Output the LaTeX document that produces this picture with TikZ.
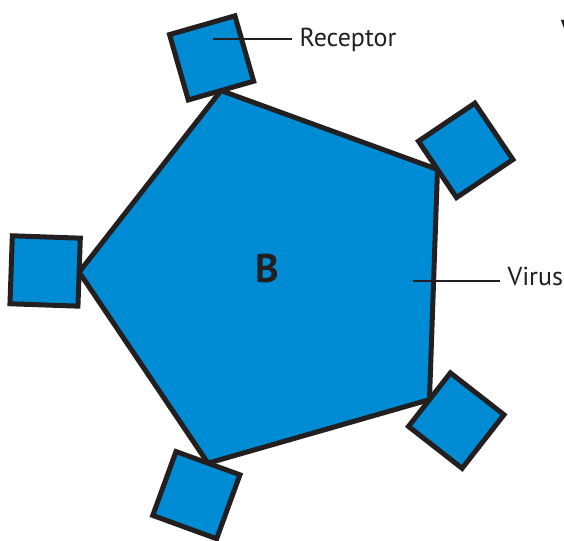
\documentclass[tikz,border=0pt]{standalone}
\usepackage{fontspec}
\setmainfont{PT Sans}
\definecolor{virusblue}{RGB}{0,140,212}
\definecolor{ink}{RGB}{35,31,32}

\begin{document}
\begin{tikzpicture}[x=1pt,y=1pt,line width=5pt,
    virus/.style={draw=ink,fill=virusblue},
    receptor/.style={draw=ink,fill=virusblue},
    leader/.style={draw=ink,line width=2pt},
    tag/.style={font=\fontsize{26}{30}\selectfont,text=ink,inner sep=5pt,anchor=base west}]
  \useasboundingbox (0,0) rectangle (564,540);
  \def\R{196}   % circumradius of the virus
  \def\S{34}    % half the side of a receptor
  \begin{scope}[shift={(275,261)}]
    \draw[virus] (106:\R) -- (34:\R) -- (-38:\R) -- (-110:\R) -- (178:\R) -- cycle;
    \foreach \a in {106,34,-38,-110,178} {
      \draw[receptor,shift={(\a:{\R+\S})},rotate=\a] (-\S,-\S) rectangle (\S,\S);
    }
    \node[font=\bfseries\fontsize{40}{48}\selectfont,text=ink] (b) at (-8,10) {B};
  \end{scope}
  % labels
  \coordinate (rectip) at (213,501);
  \node[tag] (rec) at (292,493) {Receptor};
  \draw[leader] (rectip) -- (rectip -| rec.west);
  \coordinate (virtip) at (413,259);
  \node[tag] (vir) at (500,254) {Virus};
  \draw[leader] (virtip) -- (virtip -| vir.west);
  \node[tag,inner sep=0pt,font=\bfseries\fontsize{26}{30}\selectfont] (cut) at (558.5,501) {V};
\end{tikzpicture}
\end{document}
